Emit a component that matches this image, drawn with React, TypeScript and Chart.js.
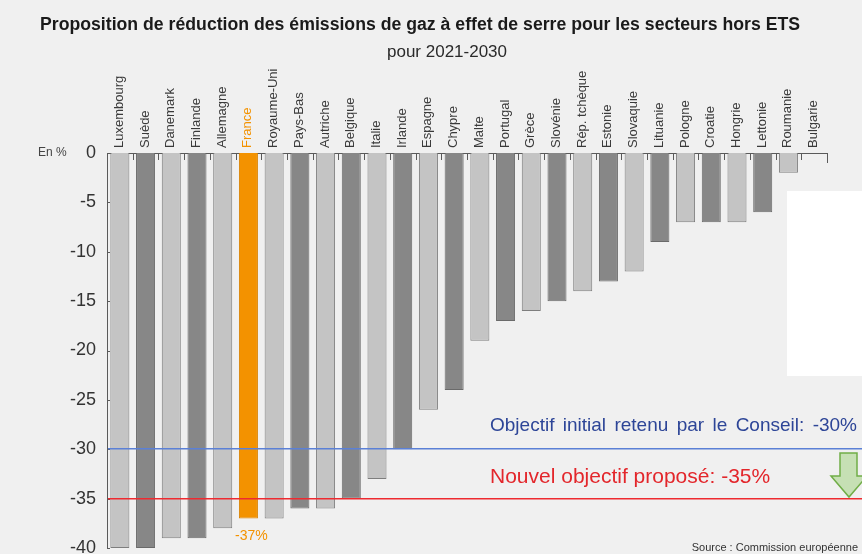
import React, { useEffect, useRef } from 'react';
import { Chart, registerables } from 'chart.js';

Chart.register(...registerables);

const titleText = 'Proposition de réduction des émissions de gaz à effet de serre pour les secteurs hors ETS';
const subtitleText = 'pour 2021-2030';
const unitLabel = 'En %';
const sourceText = 'Source : Commission européenne';

const countries = [
  'Luxembourg', 'Suède', 'Danemark', 'Finlande', 'Allemagne', 'France', 'Royaume-Uni',
  'Pays-Bas', 'Autriche', 'Belgique', 'Italie', 'Irlande', 'Espagne', 'Chypre', 'Malte',
  'Portugal', 'Grèce', 'Slovénie', 'Rép. tchèque', 'Estonie', 'Slovaquie', 'Lituanie',
  'Pologne', 'Croatie', 'Hongrie', 'Lettonie', 'Roumanie', 'Bulgarie',
];
const reductions = [
  -40, -40, -39, -39, -38, -37, -37, -36, -36, -35, -33, -30, -26, -24, -19,
  -17, -16, -15, -14, -13, -12, -9, -7, -7, -7, -6, -2, 0,
];
const yMin = -40;
const yMax = 0;
const yStep = 5;

const highlightCountry = 'France';
const highlightLabel = '-37%';

const initialTarget = -30;
const initialTargetText = 'Objectif initial retenu par le Conseil: -30%';
const newTarget = -35;
const newTargetText = 'Nouvel objectif proposé: -35%';

const BG = '#f0f0f0';
const LIGHT = '#c4c4c4';
const LIGHT_BORDER = '#7e7e7e';
const DARK = '#878787';
const DARK_BORDER = '#6a6a6a';
const ORANGE = '#f39200';
const BLUE_LINE = '#5b80d6';
const RED_LINE = '#ee2a30';
const FONT = '"Liberation Sans", Arial, sans-serif';

const decorPlugin = {
  id: 'decor',
  beforeDraw(chart: any) {
    const { ctx, width, height } = chart;
    ctx.save();
    ctx.fillStyle = BG;
    ctx.fillRect(0, 0, width, height);
    ctx.fillStyle = '#ffffff';
    ctx.fillRect(787, 191, width - 787, 185);
    ctx.restore();
  },
  afterDatasetsDraw(chart: any) {
    const { ctx, chartArea, width } = chart;
    const x = chart.scales.x;
    const y = chart.scales.y;
    ctx.save();
    ctx.strokeStyle = '#5a5a5a';
    ctx.lineWidth = 1;
    const n = countries.length;
    for (let i = 1; i <= n; i++) {
      const px = i < n ? (x.getPixelForValue(i - 1) + x.getPixelForValue(i)) / 2 : chartArea.right;
      const len = i < n ? 7 : 10;
      const ax = Math.round(px) + 0.5;
      ctx.beginPath();
      ctx.moveTo(ax, chartArea.top);
      ctx.lineTo(ax, chartArea.top + len);
      ctx.stroke();
    }
    for (let v = yMax; v >= yMin; v -= yStep) {
      const py = Math.round(y.getPixelForValue(v)) + 0.5;
      ctx.beginPath();
      ctx.moveTo(chartArea.left, py);
      ctx.lineTo(chartArea.left + 3, py);
      ctx.stroke();
    }
    ctx.restore();

    const drawTarget = (value: number, color: string) => {
      const py = Math.round(y.getPixelForValue(value));
      ctx.save();
      ctx.fillStyle = color;
      ctx.fillRect(chartArea.left + 1, py - 1, width - chartArea.left - 1, 1.5);
      ctx.restore();
    };
    drawTarget(initialTarget, BLUE_LINE);
    drawTarget(newTarget, RED_LINE);
  },
  afterDraw(chart: any) {
    const { ctx, chartArea } = chart;
    const x = chart.scales.x;
    const y = chart.scales.y;
    ctx.save();
    ctx.fillStyle = '#1a1a1a';
    ctx.textAlign = 'center';
    ctx.textBaseline = 'alphabetic';
    ctx.font = `bold 18px ${FONT}`;
    ctx.fillText(titleText, 420, 30, 760);
    ctx.font = `17px ${FONT}`;
    ctx.fillStyle = '#2a2a2a';
    ctx.fillText(subtitleText, 447, 57, 130);
    ctx.font = `12px ${FONT}`;
    ctx.fillStyle = '#444';
    ctx.textAlign = 'left';
    ctx.textBaseline = 'middle';
    ctx.fillText(unitLabel, 38, chartArea.top);
    const hi = countries.indexOf(highlightCountry);
    const hv = reductions[hi];
    ctx.font = `14px ${FONT}`;
    ctx.fillStyle = ORANGE;
    ctx.textAlign = 'center';
    ctx.textBaseline = 'alphabetic';
    ctx.fillText(highlightLabel, x.getPixelForValue(hi) + 3, y.getPixelForValue(hv) + 22);
    ctx.textAlign = 'left';
    ctx.font = `19px ${FONT}`;
    ctx.fillStyle = '#2d4597';
    const w1 = ctx.measureText(initialTargetText).width;
    const spaces1 = (initialTargetText.match(/ /g) || []).length;
    const target1 = 367;
    if ('wordSpacing' in ctx && w1 < target1) {
      (ctx as any).wordSpacing = `${(target1 - w1) / spaces1}px`;
    }
    ctx.fillText(initialTargetText, 490, y.getPixelForValue(initialTarget) - 18, target1);
    if ('wordSpacing' in ctx) (ctx as any).wordSpacing = '0px';
    ctx.font = `21px ${FONT}`;
    ctx.fillStyle = '#e3262b';
    ctx.fillText(newTargetText, 490, y.getPixelForValue(newTarget) - 16, 285);
    const ax0 = 840, ax1 = 857, top = 453, headTop = 476, tipY = 497, hl = 831, hr = 867, tipX = 849;
    ctx.beginPath();
    ctx.moveTo(ax0, top);
    ctx.lineTo(ax1, top);
    ctx.lineTo(ax1, headTop);
    ctx.lineTo(hr, headTop);
    ctx.lineTo(tipX, tipY);
    ctx.lineTo(hl, headTop);
    ctx.lineTo(ax0, headTop);
    ctx.closePath();
    ctx.fillStyle = '#c6e0b4';
    ctx.fill();
    ctx.strokeStyle = '#70ad47';
    ctx.lineWidth = 1.5;
    ctx.stroke();
    ctx.font = `11px ${FONT}`;
    ctx.fillStyle = '#333';
    ctx.textAlign = 'right';
    ctx.fillText(sourceText, 858, 551, 176);
    ctx.restore();
  },
};

export default function App() {
  const ref = useRef<HTMLCanvasElement>(null);
  useEffect(() => {
    if (!ref.current) return;
    const colors = countries.map((c, i) => (c === highlightCountry ? ORANGE : i % 2 === 0 ? LIGHT : DARK));
    const borders = countries.map((c, i) => (c === highlightCountry ? '#d98200' : i % 2 === 0 ? LIGHT_BORDER : DARK_BORDER));
    const chart = new Chart(ref.current, {
      type: 'bar',
      data: {
        labels: countries,
        datasets: [
          {
            label: 'Réduction (%)',
            data: reductions,
            backgroundColor: colors,
            borderColor: borders,
            borderWidth: 1,
            borderSkipped: 'start',
            barPercentage: 0.74,
            categoryPercentage: 1,
          },
        ],
      },
      options: {
        responsive: false,
        animation: false,
        events: [],
        layout: { padding: { top: 63, left: 0, right: 35, bottom: 6 } },
        plugins: {
          legend: { display: false },
          tooltip: { enabled: false },
          title: { display: false },
        },
        scales: {
          x: {
            position: 'top',
            offset: true,
            grid: { display: false, drawTicks: false },
            border: { display: true, color: '#5a5a5a', width: 1 },
            ticks: {
              autoSkip: false,
              minRotation: 90,
              maxRotation: 90,
              padding: 5,
              labelOffset: 15,
              font: { family: FONT, size: 13 },
              color: (c: any) => (countries[c.index] === highlightCountry ? ORANGE : '#3a3a3a'),
            },
            afterFit: (s: any) => {
              s.height = 90;
            },
          },
          y: {
            min: yMin,
            max: yMax,
            grid: { display: false, drawTicks: false },
            border: { display: true, color: '#5a5a5a', width: 1 },
            ticks: {
              stepSize: yStep,
              padding: 11,
              font: { family: FONT, size: 18 },
              color: '#333',
            },
            afterFit: (s: any) => {
              s.width = 107;
              s.paddingTop = 0;
              s.paddingBottom = 0;
            },
          },
        },
      },
      plugins: [decorPlugin],
    });
    return () => chart.destroy();
  }, []);
  return (
    <div style={{ position: 'fixed', left: 0, top: 0, width: 862, height: 554, background: BG }}>
      <canvas ref={ref} width={862} height={554} style={{ display: 'block' }} />
    </div>
  );
}
